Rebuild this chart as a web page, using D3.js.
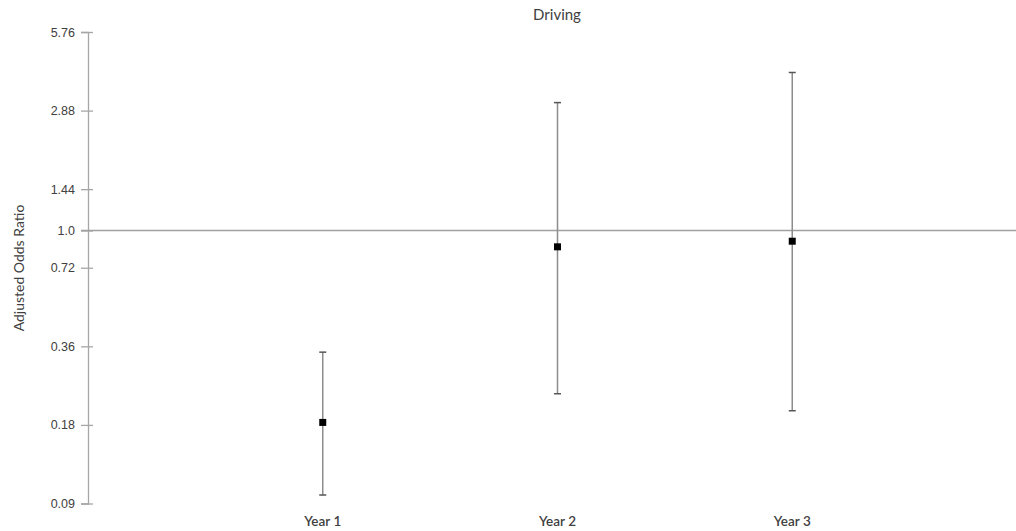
<!DOCTYPE html>
<html>
<head>
<meta charset="utf-8">
<script src="https://cdn.jsdelivr.net/npm/d3@7"></script>
<style>
  html, body { margin: 0; padding: 0; background: #fff; }
  svg { display: block; font-family: Lato, "Open Sans", "Liberation Sans", sans-serif; }
</style>
</head>
<body>
<svg id="chart" width="1016" height="531"></svg>
<script>
// Adjusted odds ratios with 95% confidence intervals, by year
const years = ["Year 1", "Year 2", "Year 3"];
const oddsRatio = [0.184, 0.866, 0.910];
const ciLower = [0.097, 0.237, 0.204];
const ciUpper = [0.342, 3.09, 4.03];
const yTickValues = [0.09, 0.18, 0.36, 0.72, 1.0, 1.44, 2.88, 5.76];
const yTickLabels = ["0.09", "0.18", "0.36", "0.72", "1.0", "1.44", "2.88", "5.76"];
const referenceValue = 1.0;
const title = "Driving";
const yTitle = "Adjusted Odds Ratio";

const svg = d3.select("#chart");
const W = 1016;

const y = d3.scaleLog().base(2).domain([0.09, 5.76]).range([503.5, 32]);
const x = d3.scalePoint().domain(years).range([88, 1027]).padding(1);

// y axis
const yAxis = d3.axisLeft(y)
  .tickValues(yTickValues)
  .tickFormat((d, i) => yTickLabels[i])
  .tickSize(7)
  .tickPadding(6);

const gy = svg.append("g").attr("transform", "translate(88,0)").call(yAxis);
gy.select(".domain").attr("stroke", "#a6a6a6").attr("stroke-width", 1.3);
gy.selectAll(".tick line").attr("stroke", "#a6a6a6").attr("stroke-width", 1.3).attr("x2", 5).attr("x1", -7);
gy.selectAll(".tick text").attr("fill", "#404040").attr("font-size", 12.5).attr("x", -13);

// reference line at OR = 1
svg.append("line")
  .attr("x1", 81).attr("x2", W)
  .attr("y1", y(referenceValue)).attr("y2", y(referenceValue))
  .attr("stroke", "#a0a0a0").attr("stroke-width", 1.5);

// x category labels
svg.append("g").selectAll("text").data(years).join("text")
  .attr("x", d => x(d)).attr("y", 526)
  .attr("text-anchor", "middle")
  .attr("fill", "#404040").attr("font-size", 13.5).attr("font-weight", 600)
  .text(d => d);

// error bars
const bars = svg.append("g").selectAll("g").data(years).join("g");
bars.append("line")
  .attr("x1", d => x(d)).attr("x2", d => x(d))
  .attr("y1", (d, i) => y(ciUpper[i])).attr("y2", (d, i) => y(ciLower[i]))
  .attr("stroke", "#8c8c8c").attr("stroke-width", 1.5);
bars.append("line")
  .attr("x1", d => x(d) - 3.5).attr("x2", d => x(d) + 3.5)
  .attr("y1", (d, i) => y(ciUpper[i])).attr("y2", (d, i) => y(ciUpper[i]))
  .attr("stroke", "#555").attr("stroke-width", 1.5);
bars.append("line")
  .attr("x1", d => x(d) - 3.5).attr("x2", d => x(d) + 3.5)
  .attr("y1", (d, i) => y(ciLower[i])).attr("y2", (d, i) => y(ciLower[i]))
  .attr("stroke", "#555").attr("stroke-width", 1.5);
bars.append("rect")
  .attr("x", d => x(d) - 3.5).attr("y", (d, i) => y(oddsRatio[i]) - 3.5)
  .attr("width", 7).attr("height", 7)
  .attr("fill", "#000");

// titles
svg.append("text")
  .attr("x", 557).attr("y", 20)
  .attr("text-anchor", "middle")
  .attr("fill", "#404040").attr("font-size", 15)
  .text(title);

svg.append("text")
  .attr("transform", "translate(24,268) rotate(-90)")
  .attr("text-anchor", "middle")
  .attr("fill", "#404040").attr("font-size", 14)
  .text(yTitle);
</script>
</body>
</html>
